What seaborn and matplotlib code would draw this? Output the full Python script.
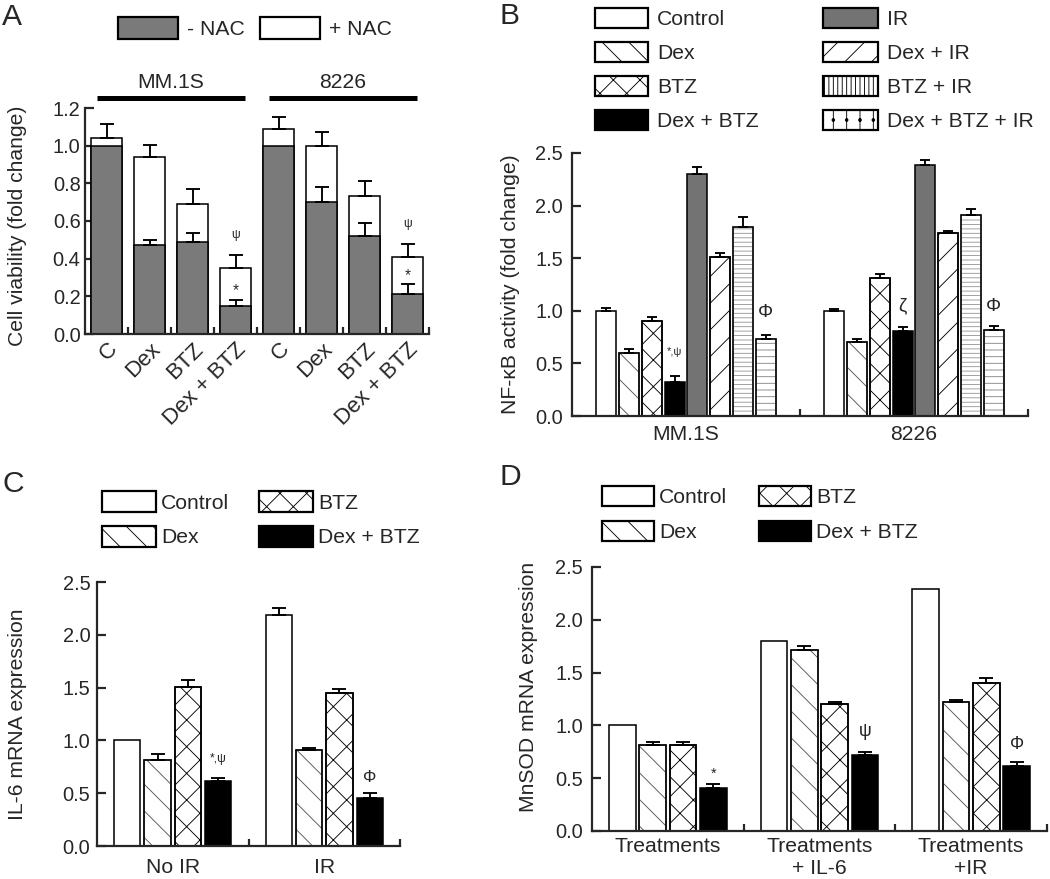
import numpy as np
import pandas as pd
import matplotlib
matplotlib.use("Agg")
import matplotlib.pyplot as plt
import seaborn as sns
from matplotlib.patches import Patch, Rectangle
from matplotlib.ticker import FixedLocator, FormatStrFormatter

# ---------------- data ----------------
# Panel A: cell viability (fold change)
a_cell_lines = ["MM.1S", "8226"]
a_treatments = ["C", "Dex", "BTZ", "Dex + BTZ"]
a_minus_nac = [1.00, 0.47, 0.49, 0.15, 1.00, 0.70, 0.52, 0.21]
a_minus_nac_err = [0.0, 0.03, 0.045, 0.033, 0.0, 0.08, 0.07, 0.053]
a_plus_nac = [1.04, 0.94, 0.69, 0.35, 1.09, 1.00, 0.735, 0.41]
a_plus_nac_err = [0.075, 0.065, 0.08, 0.07, 0.06, 0.075, 0.075, 0.07]

# Panel B: NF-kB activity (fold change)
b_cell_lines = ["MM.1S", "8226"]
b_treatments = ["Control", "Dex", "BTZ", "Dex + BTZ", "IR", "Dex + IR", "BTZ + IR", "Dex + BTZ + IR"]
b_mm1s = [1.00, 0.60, 0.90, 0.32, 2.30, 1.51, 1.80, 0.73]
b_mm1s_err = [0.03, 0.04, 0.04, 0.06, 0.07, 0.04, 0.09, 0.04]
b_8226 = [1.00, 0.70, 1.31, 0.81, 2.39, 1.74, 1.91, 0.82]
b_8226_err = [0.02, 0.03, 0.04, 0.04, 0.04, 0.02, 0.06, 0.04]

# Panel C: IL-6 mRNA expression
c_conditions = ["No IR", "IR"]
c_treatments = ["Control", "Dex", "BTZ", "Dex + BTZ"]
c_control = [1.00, 2.19]
c_control_err = [0.0, 0.06]
c_dex = [0.81, 0.905]
c_dex_err = [0.06, 0.025]
c_btz = [1.51, 1.45]
c_btz_err = [0.065, 0.035]
c_dex_btz = [0.615, 0.458]
c_dex_btz_err = [0.03, 0.04]

# Panel D: MnSOD mRNA expression
d_conditions = ["Treatments", "Treatments\n+ IL-6", "Treatments\n+IR"]
d_treatments = ["Control", "Dex", "BTZ", "Dex + BTZ"]
d_control = [1.00, 1.80, 2.29]
d_control_err = [0.0, 0.0, 0.0]
d_dex = [0.81, 1.71, 1.22]
d_dex_err = [0.035, 0.04, 0.02]
d_btz = [0.81, 1.20, 1.40]
d_btz_err = [0.035, 0.02, 0.045]
d_dex_btz = [0.41, 0.72, 0.615]
d_dex_btz_err = [0.035, 0.025, 0.035]

# ---------------- style ----------------
sns.set_style("ticks")
plt.rcParams["font.family"] = ["Liberation Sans", "DejaVu Sans"]
plt.rcParams["hatch.linewidth"] = 0.8
plt.rcParams["axes.linewidth"] = 2.0

TICK_FS = 18
LAB_FS = 19
W, H = 1050, 879
DPI = 80

fill = {"Control": "white", "Dex": "white", "BTZ": "white", "Dex + BTZ": "black",
        "IR": "#737373", "Dex + IR": "white", "BTZ + IR": "white", "Dex + BTZ + IR": "white"}
hatch = {"Control": None, "Dex": "\\", "BTZ": "x", "Dex + BTZ": None, "IR": None,
         "Dex + IR": "/", "BTZ + IR": "---", "Dex + BTZ + IR": "--"}
hatch_col = {"Dex": "#555555", "BTZ": "black", "Dex + IR": "black",
             "BTZ + IR": "#999999", "Dex + BTZ + IR": "#888888"}
legend_hatch = dict(hatch)
legend_hatch["BTZ + IR"] = "|||"
legend_hatch["Dex + BTZ + IR"] = "|."

fig = plt.figure(figsize=(W / DPI, H / DPI), dpi=DPI)


def rect(l, t, r, b):
    return [l / W, 1 - b / H, (r - l) / W, (b - t) / H]


def style_bars(ax, cont, name):
    h = hatch.get(name)
    for p in cont.patches:
        if h:
            p.set_hatch(h)
            p.set_edgecolor(hatch_col[name])
            ax.add_patch(Rectangle(p.get_xy(), p.get_width(), p.get_height(), fill=False,
                                   ec="black", lw=1.4, zorder=p.get_zorder() + 0.1))


def add_err(ax, cont, errs, capsize):
    xs, ys, es = [], [], []
    for p, e in zip(cont.patches, errs):
        if e > 0:
            xs.append(p.get_x() + p.get_width() / 2)
            ys.append(p.get_height())
            es.append(e)
    if xs:
        ax.errorbar(xs, ys, yerr=[np.zeros(len(es)), es], fmt="none", ecolor="black",
                    elinewidth=1.7, capsize=capsize, capthick=1.7, zorder=3)


def mark(ax, patch, err, text, dy, size):
    x = patch.get_x() + patch.get_width() / 2
    y = patch.get_height() + err
    ax.annotate(text, xy=(x, y), xytext=(0, dy), textcoords="offset points",
                ha="center", va="center", fontsize=size)


def style_axis(ax, ymax, yticks, xlim, minor, ypad, xpad):
    sns.despine(ax=ax)
    for s in ["left", "bottom"]:
        ax.spines[s].set_linewidth(2)
    ax.set_xlim(*xlim)
    ax.set_ylim(0, ymax)
    ax.set_yticks(yticks)
    ax.yaxis.set_major_formatter(FormatStrFormatter("%.1f"))
    ax.tick_params(axis="y", direction="in", length=8, width=2, labelsize=TICK_FS, pad=ypad)
    ax.tick_params(axis="x", which="major", length=0, labelsize=LAB_FS, pad=xpad)
    ax.xaxis.set_minor_locator(FixedLocator(minor))
    ax.tick_params(axis="x", which="minor", direction="in", length=6, width=2)
    ax.set_xlabel("")


def legend_at(handles, labels, x, y, hl, hh, ls, htp):
    fig.legend(handles, labels, loc="upper left", bbox_to_anchor=(x / W, 1 - y / H),
               frameon=False, borderpad=0, borderaxespad=0, handlelength=hl,
               handleheight=hh, labelspacing=ls, handletextpad=htp, fontsize=LAB_FS)


def legend_handle(name):
    return Patch(facecolor=fill[name], edgecolor="black", hatch=legend_hatch[name], linewidth=2)


# ---------------- Panel A ----------------
axA = fig.add_axes(rect(85, 108, 429, 334))
a_keys = [f"{c}|{t}" for c in a_cell_lines for t in a_treatments]
dfA = pd.DataFrame({"key": a_keys, "minus": a_minus_nac, "plus": a_plus_nac})
sns.barplot(data=dfA, x="key", y="plus", order=a_keys, color="white", saturation=1,
            edgecolor="black", linewidth=1.4, width=0.7, errorbar=None, ax=axA)
sns.barplot(data=dfA, x="key", y="minus", order=a_keys, color="#7a7a7a", saturation=1,
            edgecolor="black", linewidth=1.4, width=0.7, errorbar=None, ax=axA)
contA_plus, contA_minus = axA.containers[0], axA.containers[1]
add_err(axA, contA_plus, a_plus_nac_err, 6)
add_err(axA, contA_minus, a_minus_nac_err, 6)
style_axis(axA, 1.2, np.arange(0, 1.21, 0.2), (-0.5, 7.5), np.arange(0.5, 8, 1.0), 4, 4)
axA.set_xticks(range(len(a_keys)))
axA.set_xticklabels(a_treatments * len(a_cell_lines), rotation=45, ha="right",
                    rotation_mode="anchor", fontsize=20)
axA.set_ylabel("Cell viability (fold change)", fontsize=LAB_FS)
axA.yaxis.label.set_verticalalignment("center")
axA.yaxis.set_label_coords((18 - 85) / 344, 0.48)
# group bars
n = len(a_treatments)
for gi, cell in enumerate(a_cell_lines):
    pl = contA_plus.patches[gi * n]
    pr = contA_plus.patches[gi * n + n - 1]
    x0 = pl.get_x() + 0.12
    x1 = pr.get_x() + pr.get_width() - 0.12
    axA.plot([x0, x1], [1.253, 1.253], color="black", lw=4.5, clip_on=False, solid_capstyle="butt")
    axA.text((x0 + x1) / 2, 1.335, cell, ha="center", va="center", fontsize=LAB_FS, clip_on=False)
# marks
for gi in range(len(a_cell_lines)):
    k = gi * n + n - 1
    mark(axA, contA_plus.patches[k], a_plus_nac_err[k], "ψ", 18, 11)
    mark(axA, contA_minus.patches[k], a_minus_nac_err[k], "*", 8, 14)
legend_at([Patch(facecolor="#7a7a7a", edgecolor="black", linewidth=2)], ["- NAC"], 118, 17, 2.85, 1.2, 0.5, 0.4)
legend_at([Patch(facecolor="white", edgecolor="black", linewidth=2)], ["+ NAC"], 260, 17, 2.85, 1.2, 0.5, 0.4)

# ---------------- Panel B ----------------
axB = fig.add_axes(rect(572, 153, 1028, 416))
dfB = pd.DataFrame({
    "group": np.repeat(b_cell_lines, len(b_treatments)),
    "treatment": b_treatments * len(b_cell_lines),
    "value": b_mm1s + b_8226,
})
errB = {t: [b_mm1s_err[i], b_8226_err[i]] for i, t in enumerate(b_treatments)}
sns.barplot(data=dfB, x="group", y="value", hue="treatment", order=b_cell_lines,
            hue_order=b_treatments, palette=fill, saturation=1, width=0.8, gap=0.12,
            edgecolor="black", linewidth=1.4, errorbar=None, legend=False, ax=axB)
contB = {t: c for t, c in zip(b_treatments, list(axB.containers))}
for t in b_treatments:
    style_bars(axB, contB[t], t)
    add_err(axB, contB[t], errB[t], 4.5)
style_axis(axB, 2.5, np.arange(0, 2.51, 0.5), (-0.5, 1.5), [0.5, 1.5], 8, 8)
axB.set_ylabel("NF-κB activity (fold change)", fontsize=LAB_FS)
axB.yaxis.label.set_verticalalignment("center")
axB.yaxis.set_label_coords((510 - 572) / 456, 0.5)
mark(axB, contB["Dex + BTZ"].patches[0], errB["Dex + BTZ"][0], "*,ψ", 22, 10)
mark(axB, contB["Dex + BTZ + IR"].patches[0], errB["Dex + BTZ + IR"][0], "Φ", 20, 17)
mark(axB, contB["Dex + BTZ"].patches[1], errB["Dex + BTZ"][1], "ζ", 19, 17)
mark(axB, contB["Dex + BTZ + IR"].patches[1], errB["Dex + BTZ + IR"][1], "Φ", 17, 17)
legend_at([legend_handle(t) for t in b_treatments[:4]], b_treatments[:4], 595, 8, 2.5, 1.1, 0.6, 0.45)
legend_at([legend_handle(t) for t in b_treatments[4:]], b_treatments[4:], 823, 8, 2.6, 1.1, 0.6, 0.45)

# ---------------- Panel C ----------------
axC = fig.add_axes(rect(97, 582, 400, 846))
c_vals = {"Control": c_control, "Dex": c_dex, "BTZ": c_btz, "Dex + BTZ": c_dex_btz}
c_errs = {"Control": c_control_err, "Dex": c_dex_err, "BTZ": c_btz_err, "Dex + BTZ": c_dex_btz_err}
dfC = pd.DataFrame({
    "group": c_conditions * len(c_treatments),
    "treatment": np.repeat(c_treatments, len(c_conditions)),
    "value": sum([c_vals[t] for t in c_treatments], []),
})
sns.barplot(data=dfC, x="group", y="value", hue="treatment", order=c_conditions,
            hue_order=c_treatments, palette=fill, saturation=1, width=0.8, gap=0.13,
            edgecolor="black", linewidth=1.4, errorbar=None, legend=False, ax=axC)
contC = {t: c for t, c in zip(c_treatments, list(axC.containers))}
for t in c_treatments:
    style_bars(axC, contC[t], t)
    add_err(axC, contC[t], c_errs[t], 6.5)
style_axis(axC, 2.5, np.arange(0, 2.51, 0.5), (-0.5, 1.5), [0.5, 1.5], 6, 11)
axC.set_ylabel("IL-6 mRNA expression", fontsize=LAB_FS)
axC.yaxis.label.set_verticalalignment("center")
axC.yaxis.set_label_coords((17.5 - 97) / 303, 0.5)
mark(axC, contC["Dex + BTZ"].patches[0], c_errs["Dex + BTZ"][0], "*,ψ", 17, 11)
mark(axC, contC["Dex + BTZ"].patches[1], c_errs["Dex + BTZ"][1], "Φ", 14, 15)
legend_at([legend_handle(t) for t in ["Control", "Dex"]], ["Control", "Dex"], 102, 491, 2.55, 1.15, 0.62, 0.25)
legend_at([legend_handle(t) for t in ["BTZ", "Dex + BTZ"]], ["BTZ", "Dex + BTZ"], 259, 491, 2.55, 1.15, 0.62, 0.25)

# ---------------- Panel D ----------------
axD = fig.add_axes(rect(592, 567, 1047, 831))
d_vals = {"Control": d_control, "Dex": d_dex, "BTZ": d_btz, "Dex + BTZ": d_dex_btz}
d_errs = {"Control": d_control_err, "Dex": d_dex_err, "BTZ": d_btz_err, "Dex + BTZ": d_dex_btz_err}
dfD = pd.DataFrame({
    "group": d_conditions * len(d_treatments),
    "treatment": np.repeat(d_treatments, len(d_conditions)),
    "value": sum([d_vals[t] for t in d_treatments], []),
})
sns.barplot(data=dfD, x="group", y="value", hue="treatment", order=d_conditions,
            hue_order=d_treatments, palette=fill, saturation=1, width=0.8, gap=0.13,
            edgecolor="black", linewidth=1.4, errorbar=None, legend=False, ax=axD)
contD = {t: c for t, c in zip(d_treatments, list(axD.containers))}
for t in d_treatments:
    style_bars(axD, contD[t], t)
    add_err(axD, contD[t], d_errs[t], 6)
style_axis(axD, 2.5, np.arange(0, 2.51, 0.5), (-0.5, 2.5), [0.5, 1.5, 2.5], 8, 5)
axD.set_ylabel("MnSOD mRNA expression", fontsize=LAB_FS)
axD.yaxis.label.set_verticalalignment("center")
axD.yaxis.set_label_coords((529 - 592) / 455, 0.545)
mark(axD, contD["Dex + BTZ"].patches[0], d_errs["Dex + BTZ"][0], "*", 9, 13)
mark(axD, contD["Dex + BTZ"].patches[1], d_errs["Dex + BTZ"][1], "ψ", 19, 16)
mark(axD, contD["Dex + BTZ"].patches[2], d_errs["Dex + BTZ"][2], "Φ", 16, 16)
legend_at([legend_handle(t) for t in ["Control", "Dex"]], ["Control", "Dex"], 602, 486, 2.45, 1.1, 0.65, 0.25)
legend_at([legend_handle(t) for t in ["BTZ", "Dex + BTZ"]], ["BTZ", "Dex + BTZ"], 759, 486, 2.45, 1.1, 0.65, 0.25)

# ---------------- panel letters ----------------
for letter, x, y in [("A", 2, 3), ("B", 500, 2), ("C", 2, 470), ("D", 500, 463)]:
    fig.text(x / W, 1 - y / H, letter, ha="left", va="top", fontsize=27)

fig.savefig("out.png", dpi=DPI)
